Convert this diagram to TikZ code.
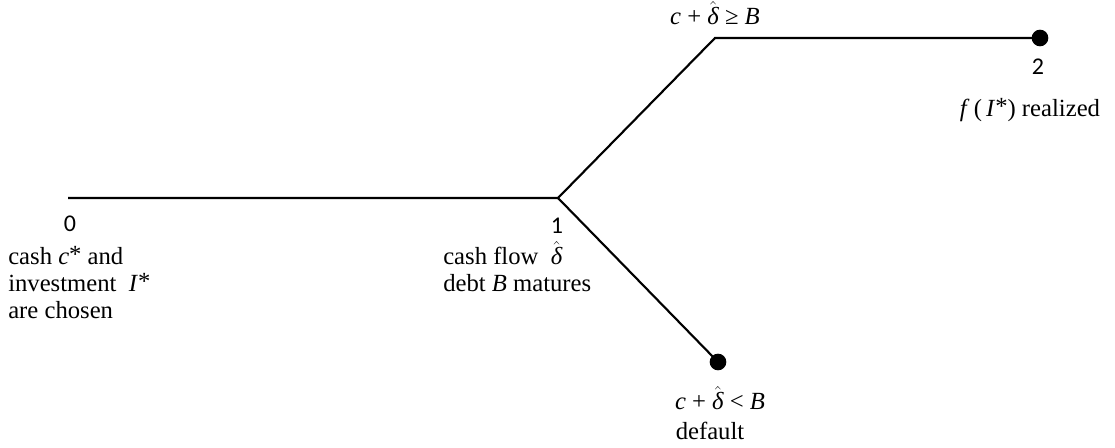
\documentclass[tikz,border=0pt]{standalone}
\usepackage{amsmath}
\usepackage{fontspec}
\setmainfont{Liberation Serif}
\newfontfamily\digitfont{Carlito}
\newcommand{\dhat}{$\hat{\text{\itshape δ}}$}
\newcommand{\sep}{\hspace{0.25em}}
\newcommand{\st}{\raisebox{0.2ex}{*}}
\begin{document}
\begin{tikzpicture}[x=0.75pt,y=-0.75pt,
  font=\fontsize{18.5}{20}\selectfont,
  branch/.style={line width=1.6pt},
  enddot/.style={circle,fill=black,inner sep=0pt,minimum size=12.5pt},
  num/.style={font=\digitfont\fontsize{18}{20}\selectfont,inner sep=0pt},
  lt/.style={inner sep=0pt,anchor=base west},
  ct/.style={inner sep=0pt,anchor=base}]
\useasboundingbox (0,0) rectangle (1115,448);
\coordinate (t0) at (68,198);
\coordinate (t1) at (558,198);
\coordinate (up) at (715,38);
\node[enddot] (e2) at (1040,38) {};
\node[enddot] (ed) at (718,362) {};
\draw[branch] (t0) -- (t1) -- (up) -- (e2.center);
\draw[branch] (t1) -- (ed.center);
% time 0
\node[num] (n0) at (70,224) {0};
\node[lt] (l0a) at (8,265) {cash \textit{c}\st{} and};
\node[lt] (l0b) at (8,292) {investment \ \textit{I}\st};
\node[lt] (l0c) at (8,319) {are chosen};
% time 1
\node[num] (n1) at (557,226) {1};
\node[lt] (l1a) at (443,265) {cash flow \ \dhat};
\node[lt] (l1b) at (443,292) {debt \textit{B} matures};
% upper branch
\node[ct] (lu) at (715,25) {\textit{c}\sep+\sep\dhat\sep≥\sep\textit{B}};
\node[num] (n2) at (1038,67) {2};
\node[ct] (l2) at (1030,117) {\textit{f}\,(\,\textit{I}\st) realized};
% lower branch
\node[ct] (ld1) at (720,410) {\textit{c}\sep+\sep\dhat\sep<\sep\textit{B}};
\node[ct] (ld2) at (710,440) {default};
\end{tikzpicture}
\end{document}
